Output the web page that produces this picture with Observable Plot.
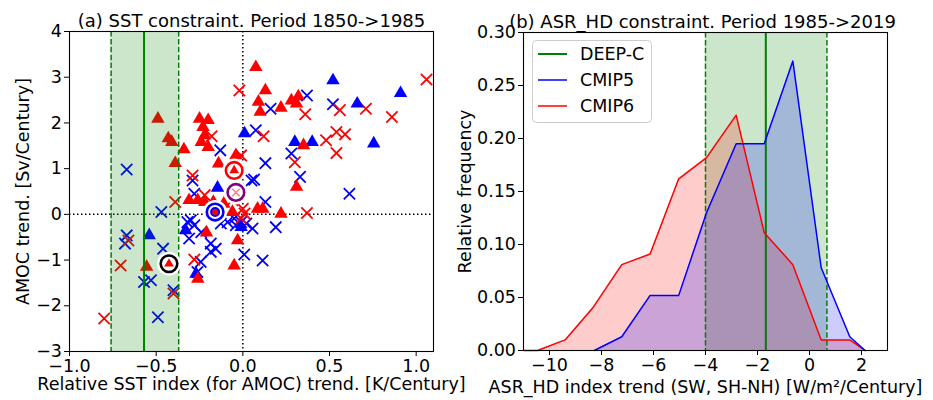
<!DOCTYPE html>
<html><head><meta charset="utf-8">
<script src="https://cdn.jsdelivr.net/npm/d3@7"></script>
<script src="https://cdn.jsdelivr.net/npm/@observablehq/plot@0.6"></script>
<style>
body{margin:0;background:#fff;}
#wrap{position:relative;width:933px;height:400px;font-family:"DejaVu Sans";color:#000;}
#wrap > svg{position:absolute;top:0;}
</style></head><body><div id="wrap"></div>
<script>
// ---------- Panel (a) data ----------
const cmip5Cross = [[0.16,2.31],[0.37,2.60],[0.52,2.41],[0.075,1.84],[-0.13,1.40],[0.28,1.33],[0.13,1.12],[0.33,0.82],[0.065,0.76],[0.615,0.45],[0.13,0.27],[-0.67,0.98],[-0.29,0.74],[0.05,0.74],[-0.28,0.45],[-0.47,0.05],[-0.04,-0.24],[0.02,-0.20],[0.056,-0.31],[0.19,-0.28],[0.008,-0.88],[0.114,-1.01],[-0.67,-0.46],[-0.68,-0.64],[-0.46,-0.75],[-0.57,-1.48],[-0.53,-1.44],[-0.40,-1.66],[-0.49,-2.25],[-0.31,-0.53],[-0.30,-0.13],[-0.28,-0.24],[-0.24,-0.39],[-0.185,-0.64],[-0.156,-0.75],[-0.185,-0.82],[-0.243,-1.04],[-0.262,-1.26],[-0.32,-0.17],[-0.127,-0.20],[-0.088,-0.17],[-0.05,-0.09],[-0.01,-0.17]];
const cmip5Tri = [[0.52,2.93],[0.91,2.65],[0.66,2.42],[0.01,1.77],[0.30,1.58],[0.40,1.58],[0.755,1.55],[-0.146,0.58],[-0.33,-0.35],[-0.54,-0.46],[-0.01,-0.28],[-0.27,-1.30]];
const cmip6Cross = [[1.06,2.95],[-0.02,2.71],[0.36,2.19],[0.56,2.28],[0.71,2.31],[0.86,2.13],[0.12,1.71],[0.48,1.62],[0.54,1.80],[0.59,1.75],[0.54,1.34],[0.30,1.14],[-0.01,1.29],[-0.18,1.71],[-0.29,0.85],[-0.22,0.42],[0.37,0.03],[0.0,0.12],[-0.01,-0.09],[-0.39,0.27],[-0.66,-0.57],[-0.705,-1.12],[-0.40,-1.73],[-0.80,-2.28],[-0.28,-0.99],[-0.06,0.31],[0.01,0.02]];
const cmip6Tri = [[0.075,3.22],[0.13,2.71],[0.09,2.46],[0.10,2.24],[0.22,2.33],[0.28,2.49],[0.32,2.58],[0.31,2.42],[-0.49,2.09],[-0.43,1.66],[-0.41,1.58],[-0.34,1.42],[-0.39,1.12],[-0.25,2.09],[-0.20,2.06],[-0.23,1.91],[-0.22,1.73],[-0.24,1.58],[-0.20,1.47],[-0.14,1.11],[0.35,1.51],[-0.04,1.29],[0.31,0.60],[0.085,0.12],[0.115,0.12],[0.22,0.01],[-0.06,0.05],[-0.03,-0.57],[-0.05,-1.12],[-0.31,0.31],[-0.26,0.31],[-0.22,0.27],[-0.11,0.23],[-0.21,-0.40],[-0.26,-1.41],[-0.555,-1.15],[-0.17,0.27]];
const targetPoints = [[-0.05,0.96],[-0.16,0.05],[-0.04,0.48],[-0.426,-1.08]];
const targetColors = ["#ff0000","#0000ff","#800080","#000000"];
const sstBand = [-0.76, -0.57, -0.37]; // low, centre, high
const sstXTicks = [-1.0,-0.5,0.0,0.5,1.0];
const amocYTicks = [-3,-2,-1,0,1,2,3,4];

// ---------- Panel (b) data ----------
const cmip6Bins = [-11.0,-10.46,-9.40,-8.34,-7.22,-6.13,-5.03,-3.96,-2.82,-1.74,-0.64,0.45,1.55,2.14];
const cmip6Freq = [0,0,0.010,0.040,0.081,0.091,0.162,0.182,0.222,0.111,0.081,0.010,0.010,0];
const cmip5Bins = [-8.28,-7.22,-6.13,-5.03,-3.96,-2.82,-1.74,-0.64,0.45,1.55,2.14];
const cmip5Freq = [0,0.013,0.052,0.052,0.130,0.195,0.195,0.273,0.078,0.013,0];
const asrBand = [-4.0, -1.68, 0.67];
const asrXTicks = [-10,-8,-6,-4,-2,0,2];
const freqYTicks = [0,0.05,0.10,0.15,0.20,0.25,0.30];
const legendNames = ["DEEP-C","CMIP5","CMIP6"];
const legendColors = ["#008000","#0000ff","#ff0000"];

const titles = ["(a) SST constraint. Period 1850->1985","(b) ASR_HD constraint. Period 1985->2019"];
const xLabels = ["Relative SST index (for AMOC) trend. [K/Century]","ASR_HD index trend (SW, SH-NH) [W/m\u00B2/Century]"];
const yLabels = ["AMOC trend. [Sv/Century]","Relative frequency"];

const FS = 17.5, TFS = 18;
const style = {fontFamily:"DejaVu Sans", fontSize:FS+"px", background:"transparent", color:"black", overflow:"visible"};
const px = d => d[0], py = d => d[1];
const targets = targetPoints.map((p,i)=>({x:p[0], y:p[1], c:targetColors[i]}));

const a = Plot.plot({
  width:466, height:400, marginLeft:69, marginRight:33, marginTop:31, marginBottom:49,
  style,
  x:{domain:[-1,1.1], ticks:sstXTicks, tickFormat:d3.format(".1f"), label:null, tickSize:5, tickPadding:3.5},
  y:{domain:[-3,4], ticks:amocYTicks, tickFormat:d3.format("d"), label:null, tickSize:5, tickPadding:2.5},
  marks:[
    Plot.ruleX([0], {stroke:"black", strokeWidth:1.5, strokeDasharray:"1.5,2.5"}),
    Plot.ruleY([0], {stroke:"black", strokeWidth:1.5, strokeDasharray:"1.5,2.5"}),
    Plot.dot(cmip5Cross, {x:px, y:py, symbol:"times", r:5.2, stroke:"#0000ff", strokeWidth:1.8}),
    Plot.dot(cmip6Cross, {x:px, y:py, symbol:"times", r:5.2, stroke:"#ff0000", strokeWidth:1.8}),
    Plot.dot(cmip5Tri, {x:px, y:py, symbol:"triangle", r:5, fill:"#0000ff", stroke:null}),
    Plot.dot(cmip6Tri, {x:px, y:py, symbol:"triangle", r:5, fill:"#ff0000", stroke:null}),
    Plot.rect([sstBand], {x1:d=>d[0], x2:d=>d[2], fill:"#008000", fillOpacity:0.2}),
    Plot.ruleX([sstBand[0], sstBand[2]], {stroke:"#008000", strokeWidth:1.5, strokeDasharray:"5.5,2.4"}),
    Plot.ruleX([sstBand[1]], {stroke:"#008000", strokeWidth:2}),
    Plot.dot(targets, {x:"x", y:"y", r:9.5, fill:"white", stroke:"white", strokeWidth:5}),
    Plot.dot(targets, {x:"x", y:"y", r:8.3, fill:"white", stroke:"c", strokeWidth:2.6}),
    Plot.dot([targets[0], targets[3]], {x:"x", y:"y", symbol:"triangle", r:3.6, fill:"#ff0000", stroke:null}),
    Plot.dot([targets[1]], {x:"x", y:"y", r:4, fill:"#ff0000", stroke:"#0000ff", strokeWidth:2}),
    Plot.dot([targets[2]], {x:"x", y:"y", symbol:"times", r:3.5, stroke:"#ff0000", strokeOpacity:0.5, strokeWidth:1.5}),
    Plot.frame({stroke:"black", strokeWidth:1.1}),
    Plot.text([titles[0]], {text:d=>d, frameAnchor:"top", textAnchor:"middle", lineAnchor:"middle", dy:-10, fontSize:TFS}),
    Plot.text([xLabels[0]], {text:d=>d, frameAnchor:"bottom", textAnchor:"middle", lineAnchor:"middle", dy:33, fontSize:FS}),
    Plot.text([yLabels[0]], {text:d=>d, frameAnchor:"left", textAnchor:"middle", lineAnchor:"middle", rotate:-90, dx:-46, fontSize:FS})
  ]
});
a.style.left = "0px";

const c6 = cmip6Bins.map((x,i)=>({x, y:cmip6Freq[i]}));
const c5 = cmip5Bins.map((x,i)=>({x, y:cmip5Freq[i]}));

const b = Plot.plot({
  width:467, height:400, marginLeft:57, marginRight:46, marginTop:32, marginBottom:50,
  style,
  x:{domain:[-11,3], ticks:asrXTicks, tickFormat:d3.format("d"), label:null, tickSize:5, tickPadding:3.5},
  y:{domain:[0,0.30], ticks:freqYTicks, tickFormat:d3.format(".2f"), label:null, tickSize:5, tickPadding:2.5},
  marks:[
    Plot.rect([asrBand], {x1:d=>d[0], x2:d=>d[2], fill:"#008000", fillOpacity:0.2}),
    Plot.areaY(c6, {x:"x", y:"y", fill:"#ff0000", fillOpacity:0.2}),
    Plot.areaY(c5, {x:"x", y:"y", fill:"#0000ff", fillOpacity:0.2}),
    Plot.ruleX([asrBand[0], asrBand[2]], {stroke:"#008000", strokeWidth:1.5, strokeDasharray:"5.5,2.4"}),
    Plot.ruleX([asrBand[1]], {stroke:"#008000", strokeWidth:2}),
    Plot.line(c6, {x:"x", y:"y", stroke:"#ff0000", strokeWidth:1.5}),
    Plot.line(c5, {x:"x", y:"y", stroke:"#0000ff", strokeWidth:1.5}),
    Plot.frame({stroke:"black", strokeWidth:1.1}),
    Plot.text([titles[1]], {text:d=>d, frameAnchor:"top", textAnchor:"middle", lineAnchor:"middle", dy:-10.5, dx:-3, fontSize:TFS}),
    Plot.text([xLabels[1]], {text:d=>d, frameAnchor:"bottom", textAnchor:"middle", lineAnchor:"middle", dy:36.5, fontSize:FS}),
    Plot.text([yLabels[1]], {text:d=>d, frameAnchor:"left", textAnchor:"middle", lineAnchor:"middle", rotate:-90, dx:-58, fontSize:FS})
  ]
});
b.style.left = "466px";

const wrap = document.getElementById("wrap");
wrap.appendChild(a);
wrap.appendChild(b);

// legend (panel b)
const ns = "http://www.w3.org/2000/svg";
const leg = document.createElementNS(ns, "svg");
leg.setAttribute("width", 122); leg.setAttribute("height", 84);
leg.style.position = "absolute"; leg.style.left = "532px"; leg.style.top = "40px";
let html = `<rect x="0.5" y="0.5" width="119" height="82" rx="4" fill="white" fill-opacity="0.8" stroke="#cccccc"/>`;
legendNames.forEach((n,i)=>{
  const yy = 14 + i*26;
  html += `<line x1="6" x2="35" y1="${yy}" y2="${yy}" stroke="${legendColors[i]}" stroke-width="${i===0?2:1.5}"/>`;
  html += `<text x="48" y="${yy}" dy="0.35em" font-family="DejaVu Sans" font-size="${FS}">${n}</text>`;
});
leg.innerHTML = html;
wrap.appendChild(leg);
</script></body></html>
